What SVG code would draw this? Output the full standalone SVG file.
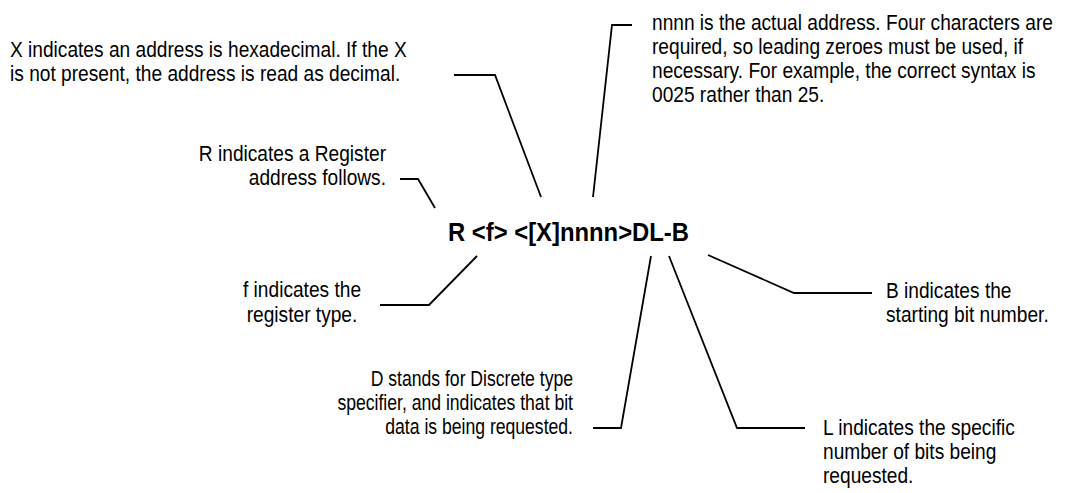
<svg xmlns="http://www.w3.org/2000/svg" width="1073" height="493" viewBox="0 0 1073 493">
<style>
.t{font-family:"Liberation Sans",Arial,sans-serif;font-size:22px;fill:#000}
.title{font-family:"Liberation Sans",Arial,sans-serif;font-size:26px;font-weight:bold;fill:#000}
.c{fill:none;stroke:#000;stroke-width:1.8;stroke-linejoin:miter}
</style>
<rect width="1073" height="493" fill="#fff"/>
<g id="connectors">
<polyline class="c" points="454,75 495,75 541,197"/>
<polyline class="c" points="632,25 612,25 593,197"/>
<polyline class="c" points="400,179 418,179 435,208"/>
<polyline class="c" points="380,305 429,305 477,256"/>
<polyline class="c" points="593,428 621,428 651,256"/>
<polyline class="c" points="669,256 737,428 805,428"/>
<polyline class="c" points="708,255 794,293 872,293"/>
</g>
<g id="title"><text class="title" transform="translate(448,241) scale(0.917,1)">R &lt;f&gt; &lt;[X]nnnn&gt;DL-B</text></g>
<g id="note-x" transform="translate(10,0) scale(0.87,1)">
<text class="t" x="0" y="57">X indicates an address is hexadecimal. If the X</text>
<text class="t" x="0" y="81">is not present, the address is read as decimal.</text>
</g>
<g id="note-nnnn" transform="translate(652,0) scale(0.87,1)">
<text class="t" x="0" y="30">nnnn is the actual address. Four characters are</text>
<text class="t" x="0" y="54">required, so leading zeroes must be used, if</text>
<text class="t" x="0" y="78">necessary. For example, the correct syntax is</text>
<text class="t" x="0" y="102">0025 rather than 25.</text>
</g>
<g id="note-r" transform="translate(386,0) scale(0.87,1)" text-anchor="end">
<text class="t" x="0" y="161">R indicates a Register</text>
<text class="t" x="0" y="185">address follows.</text>
</g>
<g id="note-f" transform="translate(302,0) scale(0.87,1)" text-anchor="middle">
<text class="t" x="0" y="297">f indicates the</text>
<text class="t" x="0" y="322">register type.</text>
</g>
<g id="note-b" transform="translate(886,0) scale(0.87,1)">
<text class="t" x="0" y="298">B indicates the</text>
<text class="t" x="0" y="322">starting bit number.</text>
</g>
<g id="note-d" transform="translate(573,0) scale(0.8,1)" text-anchor="end">
<text class="t" x="0" y="386">D stands for Discrete type</text>
<text class="t" x="0" y="410">specifier, and indicates that bit</text>
<text class="t" x="0" y="434">data is being requested.</text>
</g>
<g id="note-l" transform="translate(823,0) scale(0.87,1)">
<text class="t" x="0" y="435">L indicates the specific</text>
<text class="t" x="0" y="459">number of bits being</text>
<text class="t" x="0" y="483">requested.</text>
</g>
</svg>
